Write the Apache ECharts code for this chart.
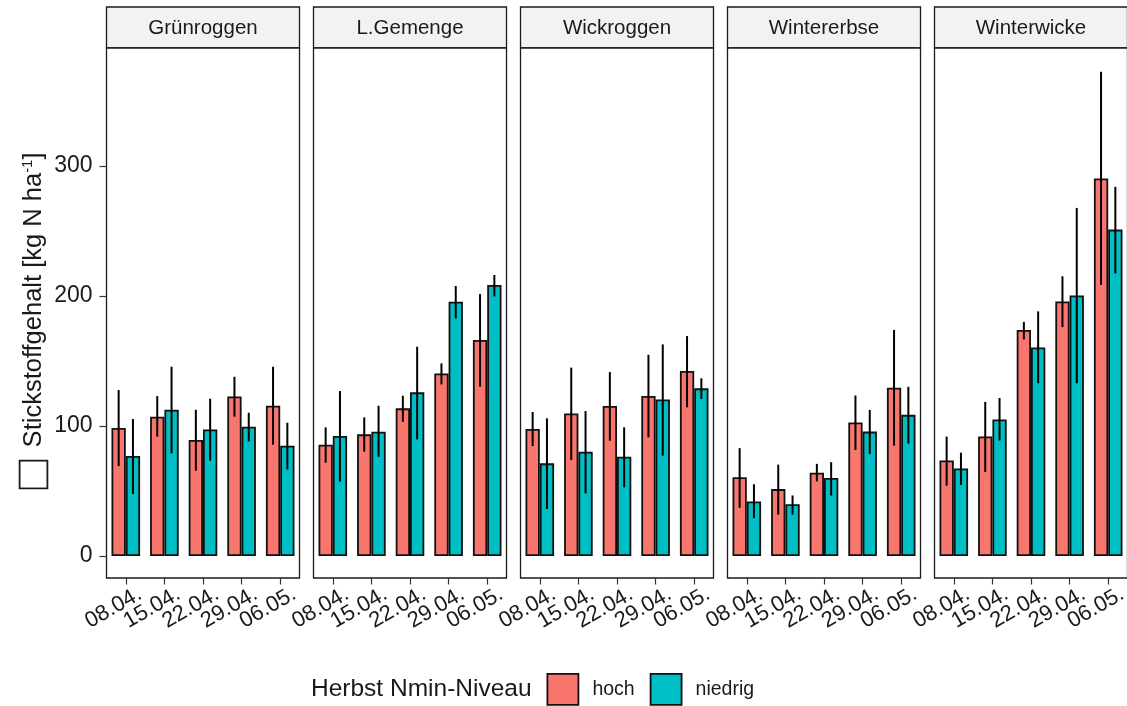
<!DOCTYPE html>
<html>
<head>
<meta charset="utf-8">
<script src="https://cdn.jsdelivr.net/npm/echarts@6/dist/echarts.min.js"></script>
<style>
html,body{margin:0;padding:0;background:#fff;}
#chart{width:1127px;height:706px;}
</style>
</head>
<body>
<div id="chart"></div>
<script>
const facets = ['Grünroggen', 'L.Gemenge', 'Wickroggen', 'Wintererbse', 'Winterwicke'];
const dates = ['08.04.', '15.04.', '22.04.', '29.04.', '06.05.'];
const levels = ['hoch', 'niedrig'];
const yTicks = [0, 100, 200, 300];

// mean values per facet (rows) and date (columns)
const hochMean = [
  [98.5, 107.2, 89.2, 122.8, 115.6],
  [85.6, 93.6, 113.6, 140.5, 166.2],
  [97.7, 109.7, 115.4, 123.1, 142.3],
  [60.6, 51.5, 64.1, 102.7, 129.4],
  [73.5, 91.9, 173.9, 195.8, 290.5]
];
const hochLow = [
  [69.2, 91.8, 65.6, 107.2, 85.6],
  [71.8, 80.3, 103.3, 132.0, 130.3],
  [84.6, 73.8, 88.7, 91.3, 114.4],
  [37.1, 31.8, 57.4, 81.6, 84.9],
  [54.1, 64.6, 166.6, 176.1, 208.5]
];
const hochHigh = [
  [127.7, 123.0, 112.5, 137.9, 145.6],
  [99.0, 106.7, 123.3, 148.2, 201.5],
  [110.8, 144.9, 141.5, 154.8, 169.2],
  [83.0, 70.3, 70.9, 123.5, 173.9],
  [91.9, 118.6, 180.1, 215.2, 372.5]
];
const niedrigMean = [
  [76.9, 112.5, 97.4, 99.5, 84.8],
  [92.3, 95.6, 125.9, 195.6, 208.5],
  [71.3, 80.3, 76.4, 120.5, 129.0],
  [42.0, 39.8, 60.1, 95.7, 108.6],
  [67.4, 105.1, 160.4, 200.4, 251.1]
];
const niedrigLow = [
  [47.7, 79.0, 73.3, 88.2, 66.6],
  [57.2, 76.4, 89.7, 182.8, 199.7],
  [36.2, 48.2, 52.8, 77.2, 120.8],
  [29.1, 31.8, 46.6, 78.4, 86.5],
  [54.7, 88.9, 132.9, 132.9, 217.4]
];
const niedrigHigh = [
  [105.4, 145.6, 121.0, 110.2, 102.5],
  [126.9, 115.6, 161.0, 207.7, 216.2],
  [105.9, 111.5, 99.0, 162.8, 136.7],
  [55.2, 46.6, 72.2, 112.4, 130.2],
  [79.5, 121.6, 188.2, 267.8, 284.0]
];

const colors = { hoch: '#F8766D', niedrig: '#00BFC4' };
const FONT = 'Liberation Sans, Arial, sans-serif';
const BAR_W = 14.3;
const PANEL_L0 = 106.5, PANEL_W = 193, PANEL_STEP = 207;
const PANEL_TOP = 48, PANEL_H = 530, STRIP_TOP = 7, STRIP_H = 41;
const Y_MIN = -16.9, Y_MAX = 390.8;

const grids = [], xAxes = [], yAxes = [], series = [], titles = [];

facets.forEach((f, i) => {
  const left = PANEL_L0 + i * PANEL_STEP;
  grids.push({ left: left, top: STRIP_TOP, width: PANEL_W, height: STRIP_H, show: true,
    outerBoundsMode: 'none',
    backgroundColor: '#F2F2F2', borderColor: '#1a1a1a', borderWidth: 1.3, containLabel: false });
  grids.push({ left: left, top: PANEL_TOP, width: PANEL_W, height: PANEL_H, show: true,
    outerBoundsMode: 'none',
    backgroundColor: '#fff', borderColor: '#1a1a1a', borderWidth: 1.3, containLabel: false });
  const sg = 2 * i, pg = 2 * i + 1;
  xAxes.push({ gridIndex: sg, type: 'category', data: [f], show: false });
  yAxes.push({ gridIndex: sg, type: 'value', show: false, min: 0, max: 1 });
  xAxes.push({ gridIndex: pg, type: 'category', data: dates, position: 'bottom',
    axisLine: { show: false, onZero: false },
    axisTick: { show: true, alignWithLabel: true, length: 6.5, lineStyle: { color: '#333', width: 1.2 } },
    axisLabel: { show: true, rotate: 30, align: 'right', verticalAlign: 'top', margin: 10,
      padding: [0, -10, 0, 0],
      fontFamily: FONT, fontSize: 22, color: '#1a1a1a', interval: 0 },
    splitLine: { show: false } });
  const yax = { gridIndex: pg, type: 'value', min: Y_MIN, max: Y_MAX,
    axisLine: { show: false }, splitLine: { show: false },
    axisTick: { show: i === 0, customValues: yTicks, length: 7, lineStyle: { color: '#333', width: 1.2 } },
    axisLabel: { show: i === 0, customValues: yTicks, margin: 14, fontFamily: FONT, fontSize: 23, color: '#1a1a1a' } };
  if (i === 0) {
    yax.name = '{box|}  Stickstoffgehalt [kg N ha{sup|-1}]';
    yax.nameLocation = 'middle';
    yax.nameGap = 60;
    yax.nameTextStyle = { fontFamily: FONT, fontSize: 25.5, color: '#1a1a1a', padding: [0, 14, 0, 0],
      align: 'center',
      rich: {
        box: { width: 26, height: 26, borderColor: '#1a1a1a', borderWidth: 1.8, backgroundColor: '#fff' },
        sup: { fontFamily: FONT, fontSize: 15, color: '#1a1a1a', verticalAlign: 'top', padding: [0, 0, 8, 0] }
      } };
  }
  yAxes.push(yax);
  titles.push({ text: f, left: left + PANEL_W / 2, top: 18, textAlign: 'center', padding: 0,
    textStyle: { fontFamily: FONT, fontSize: 20.5, fontWeight: 'normal', color: '#1a1a1a' } });

  const meanSets = [hochMean[i], niedrigMean[i]];
  const lowSets = [hochLow[i], niedrigLow[i]];
  const highSets = [hochHigh[i], niedrigHigh[i]];
  levels.forEach((lv, k) => {
    series.push({ name: lv, type: 'bar', xAxisIndex: pg, yAxisIndex: pg,
      data: meanSets[k], barWidth: BAR_W, barGap: '0%',
      itemStyle: { color: colors[lv], borderColor: '#111', borderWidth: 1.8 },
      emphasis: { disabled: true }, z: 2 });
  });
  levels.forEach((lv, k) => {
    const errData = dates.map((d, j) => [j, lowSets[k][j], highSets[k][j]]);
    series.push({ name: lv + '_err', type: 'custom', xAxisIndex: pg, yAxisIndex: pg,
      data: errData, z: 5, silent: true,
      renderItem: function (params, api) {
        const j = api.value(0);
        const p1 = api.coord([j, api.value(1)]);
        const p2 = api.coord([j, api.value(2)]);
        const off = (k === 0 ? -1 : 1) * BAR_W / 2;
        return { type: 'line', shape: { x1: p1[0] + off, y1: p1[1], x2: p2[0] + off, y2: p2[1] },
          style: { stroke: '#000', lineWidth: 2 } };
      } });
  });
});

titles.push({ text: 'Herbst Nmin-Niveau', left: 311, top: 677, padding: 0,
  textStyle: { fontFamily: FONT, fontSize: 24.5, fontWeight: 'normal', color: '#1a1a1a' } });

const option = {
  animation: false,
  backgroundColor: '#fff',
  title: titles,
  grid: grids,
  xAxis: xAxes,
  yAxis: yAxes,
  legend: { data: levels, left: 546.5, top: 673, padding: 0, itemWidth: 31, itemHeight: 31, itemGap: 15,
    icon: 'rect', selectedMode: false,
    itemStyle: { borderColor: '#111', borderWidth: 1.8 },
    textStyle: { fontFamily: FONT, fontSize: 19.5, color: '#1a1a1a', padding: [0, 0, 0, 9] } },
  series: series
};

const chart = echarts.init(document.getElementById('chart'), null, { renderer: 'canvas' });
chart.setOption(option);
</script>
</body>
</html>
